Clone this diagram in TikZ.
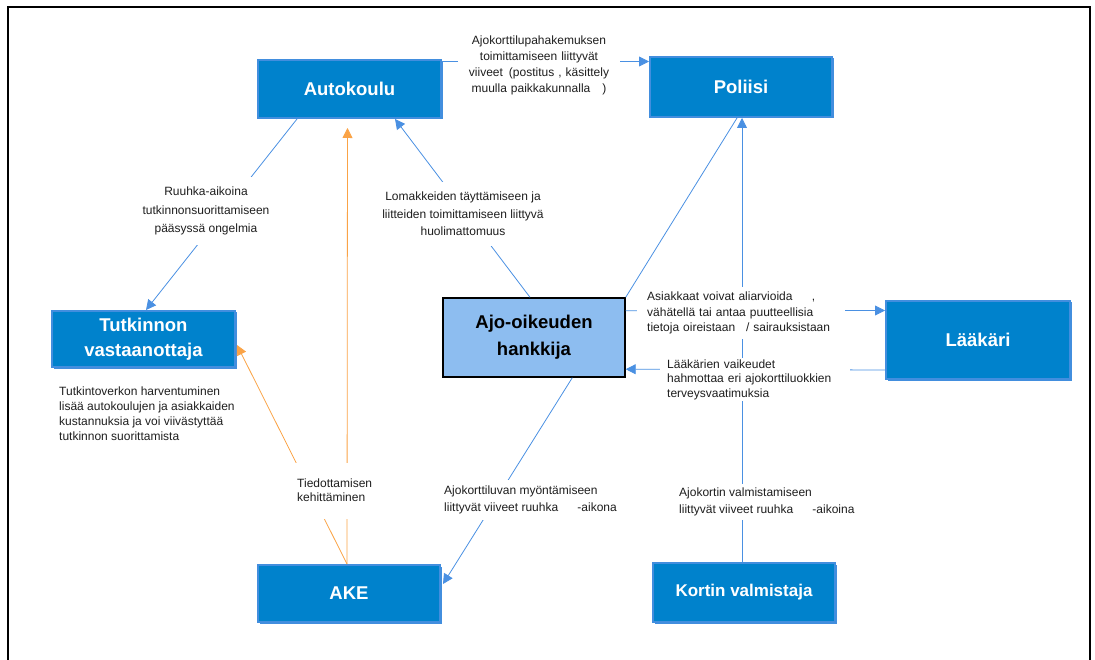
\documentclass[tikz,border=0pt]{standalone}
\usepackage{fontspec}
\setmainfont{Liberation Sans}
\usetikzlibrary{arrows.meta,shadows}
\definecolor{boxfill}{RGB}{0,130,204}
\definecolor{boxedge}{RGB}{66,142,222}
\definecolor{actorfill}{RGB}{141,189,240}
\definecolor{linkblue}{RGB}{74,144,226}
\definecolor{linkorange}{RGB}{250,163,70}
\definecolor{notetext}{RGB}{30,30,30}

\begin{document}
\begin{tikzpicture}[x=1pt,y=-1pt,
  org/.style={draw=boxedge, line width=2pt, fill=boxfill, text=white,
    font=\fontsize{18.5}{25}\selectfont\bfseries, align=center, inner sep=0pt,
    drop shadow={shadow xshift=1.5pt, shadow yshift=-1.5pt, fill=boxedge, opacity=1}},
  actor/.style={draw=black, line width=1.4pt, fill=actorfill, text=black,
    font=\fontsize{18.5}{27}\selectfont\bfseries, align=center, inner sep=0pt},
  link/.style={draw=linkblue, line width=0.8pt},
  infolink/.style={draw=linkorange, line width=0.8pt},
  tipend/.style={-{Triangle[length=10pt,width=10pt]}},
  note/.style={text=notetext, inner sep=0pt},
  cover/.style={fill=white}]

\useasboundingbox (0,0) rectangle (1095,660);

% frame
\draw[line width=2.6pt] (8,660) -- (8,7) -- (1090,7) -- (1090,660);

% actors
\node[org, minimum width=183pt, minimum height=58pt] (autokoulu) at (349.5,89) {Autokoulu};
\node[org, minimum width=182pt, minimum height=60pt] (poliisi) at (741,87) {Poliisi};
\node[org, minimum width=183pt, minimum height=56pt] (tutk) at (143.5,339) {Tutkinnon\\vastaanottaja};
\node[actor, minimum width=182pt, minimum height=79pt] (ajo) at (534,337.5) {Ajo-oikeuden\\hankkija};
\node[org, minimum width=184pt, minimum height=78pt] (laakari) at (978,340) {Lääkäri};
\node[org, minimum width=182pt, minimum height=57pt] (ake) at (349,593.5) {AKE};
\node[org, minimum width=182pt, minimum height=59pt,
      font=\fontsize{17}{20}\selectfont\bfseries] (kortin) at (744,592.5) {Kortin valmistaja};

% connectors
\draw[link, tipend] ([shift={(0,2.5)}]autokoulu.north east) -- ([shift={(0,5.5)}]poliisi.north west);
\draw[link, tipend] ([shift={(40,0)}]autokoulu.south west) -- ([shift={(2.5,0)}]tutk.north);
\draw[link, tipend] ([shift={(-4,0)}]ajo.north) -- ([shift={(45.5,0)}]autokoulu.south);
\draw[link] (ajo.north east) -- ([shift={(-4,0)}]poliisi.south);
\draw[link, tipend] ([shift={(-2,0)}]kortin.north) -- ([shift={(1,0)}]poliisi.south);
\draw[link, tipend] ([shift={(0,13.5)}]ajo.north east) -- ([shift={(0,10.5)}]laakari.north west);
\draw[link, tipend] ([shift={(0,-10)}]laakari.south west) -- ([shift={(0,-8.5)}]ajo.south east);
\draw[link, tipend] ([shift={(130,0)}]ajo.south west) -- ([shift={(2,-9.5)}]ake.east);
\draw[infolink, tipend, shorten >=9pt] ([shift={(-2,0)}]ake.north) -- ([shift={(-2,0)}]autokoulu.south);
\draw[infolink, tipend] ([shift={(-2,0)}]ake.north) -- ([shift={(1,6)}]tutk.east);

% connector labels
\node[note, cover, anchor=north, text width=160pt, align=center, inner xsep=1pt, inner ysep=2pt,
      font=\fontsize{12}{16}\selectfont] (lupa) at (539,34)
  {Ajokorttilupahakemuksen\\toimittamiseen liittyvät\\viiveet\hspace{0.5em}(postitus , käsittely\\muulla paikkakunnalla\hspace{1em})};
\node[note, cover, anchor=north, align=center, inner xsep=3pt, inner ysep=10pt,
      font=\fontsize{12}{18.5}\selectfont] (ruuhka) at (206,177)
  {Ruuhka-aikoina\\tutkinnonsuorittamiseen\\pääsyssä ongelmia};
\node[note, cover, anchor=north, align=center, inner xsep=3pt, inner ysep=10pt,
      font=\fontsize{12}{17.5}\selectfont] (lomake) at (463,182)
  {Lomakkeiden täyttämiseen ja\\liitteiden toimittamiseen liittyvä\\huolimattomuus};
\node[note, cover, anchor=north west, text width=188pt, align=left, inner xsep=10pt, inner ysep=5pt,
      font=\fontsize{12}{15.5}\selectfont] (oireet) at (637,286.7)
  {Asiakkaat voivat aliarvioida\hspace{1.6em},\\vähätellä tai antaa puutteellisia\\tietoja oireistaan\hspace{0.9em}/ sairauksistaan};
\node[note, cover, anchor=north west, text width=176pt, align=left, inner xsep=7pt, inner ysep=1.5pt,
      font=\fontsize{12}{14.5}\selectfont] (vaatimus) at (660,358)
  {Lääkärien vaikeudet\\hahmottaa eri ajokorttiluokkien\\terveysvaatimuksia};
\node[note, cover, anchor=north west, align=left, inner xsep=2pt, inner ysep=6pt,
      font=\fontsize{12}{17}\selectfont] (myonto) at (442,480)
  {Ajokorttiluvan myöntämiseen\\liittyvät viiveet ruuhka\hspace{1.6em}-aikona};
\node[note, cover, anchor=north west, align=left, inner xsep=2pt, inner ysep=4pt,
      font=\fontsize{12}{17}\selectfont] (valmistus) at (677,484)
  {Ajokortin valmistamiseen\\liittyvät viiveet ruuhka\hspace{1.6em}-aikoina};
\node[note, cover, anchor=north west, align=left, inner xsep=2pt, inner ysep=16.5pt,
      font=\fontsize{12}{14}\selectfont] (tiedotus) at (295,462.5)
  {Tiedottamisen\\kehittäminen};

% remark under the examiner box
\node[note, anchor=north west, align=left, font=\fontsize{12}{15}\selectfont] (verkko) at (59,386.2)
  {Tutkintoverkon harventuminen\\lisää autokoulujen ja asiakkaiden\\kustannuksia ja voi viivästyttää\\tutkinnon suorittamista};

\end{tikzpicture}
\end{document}
